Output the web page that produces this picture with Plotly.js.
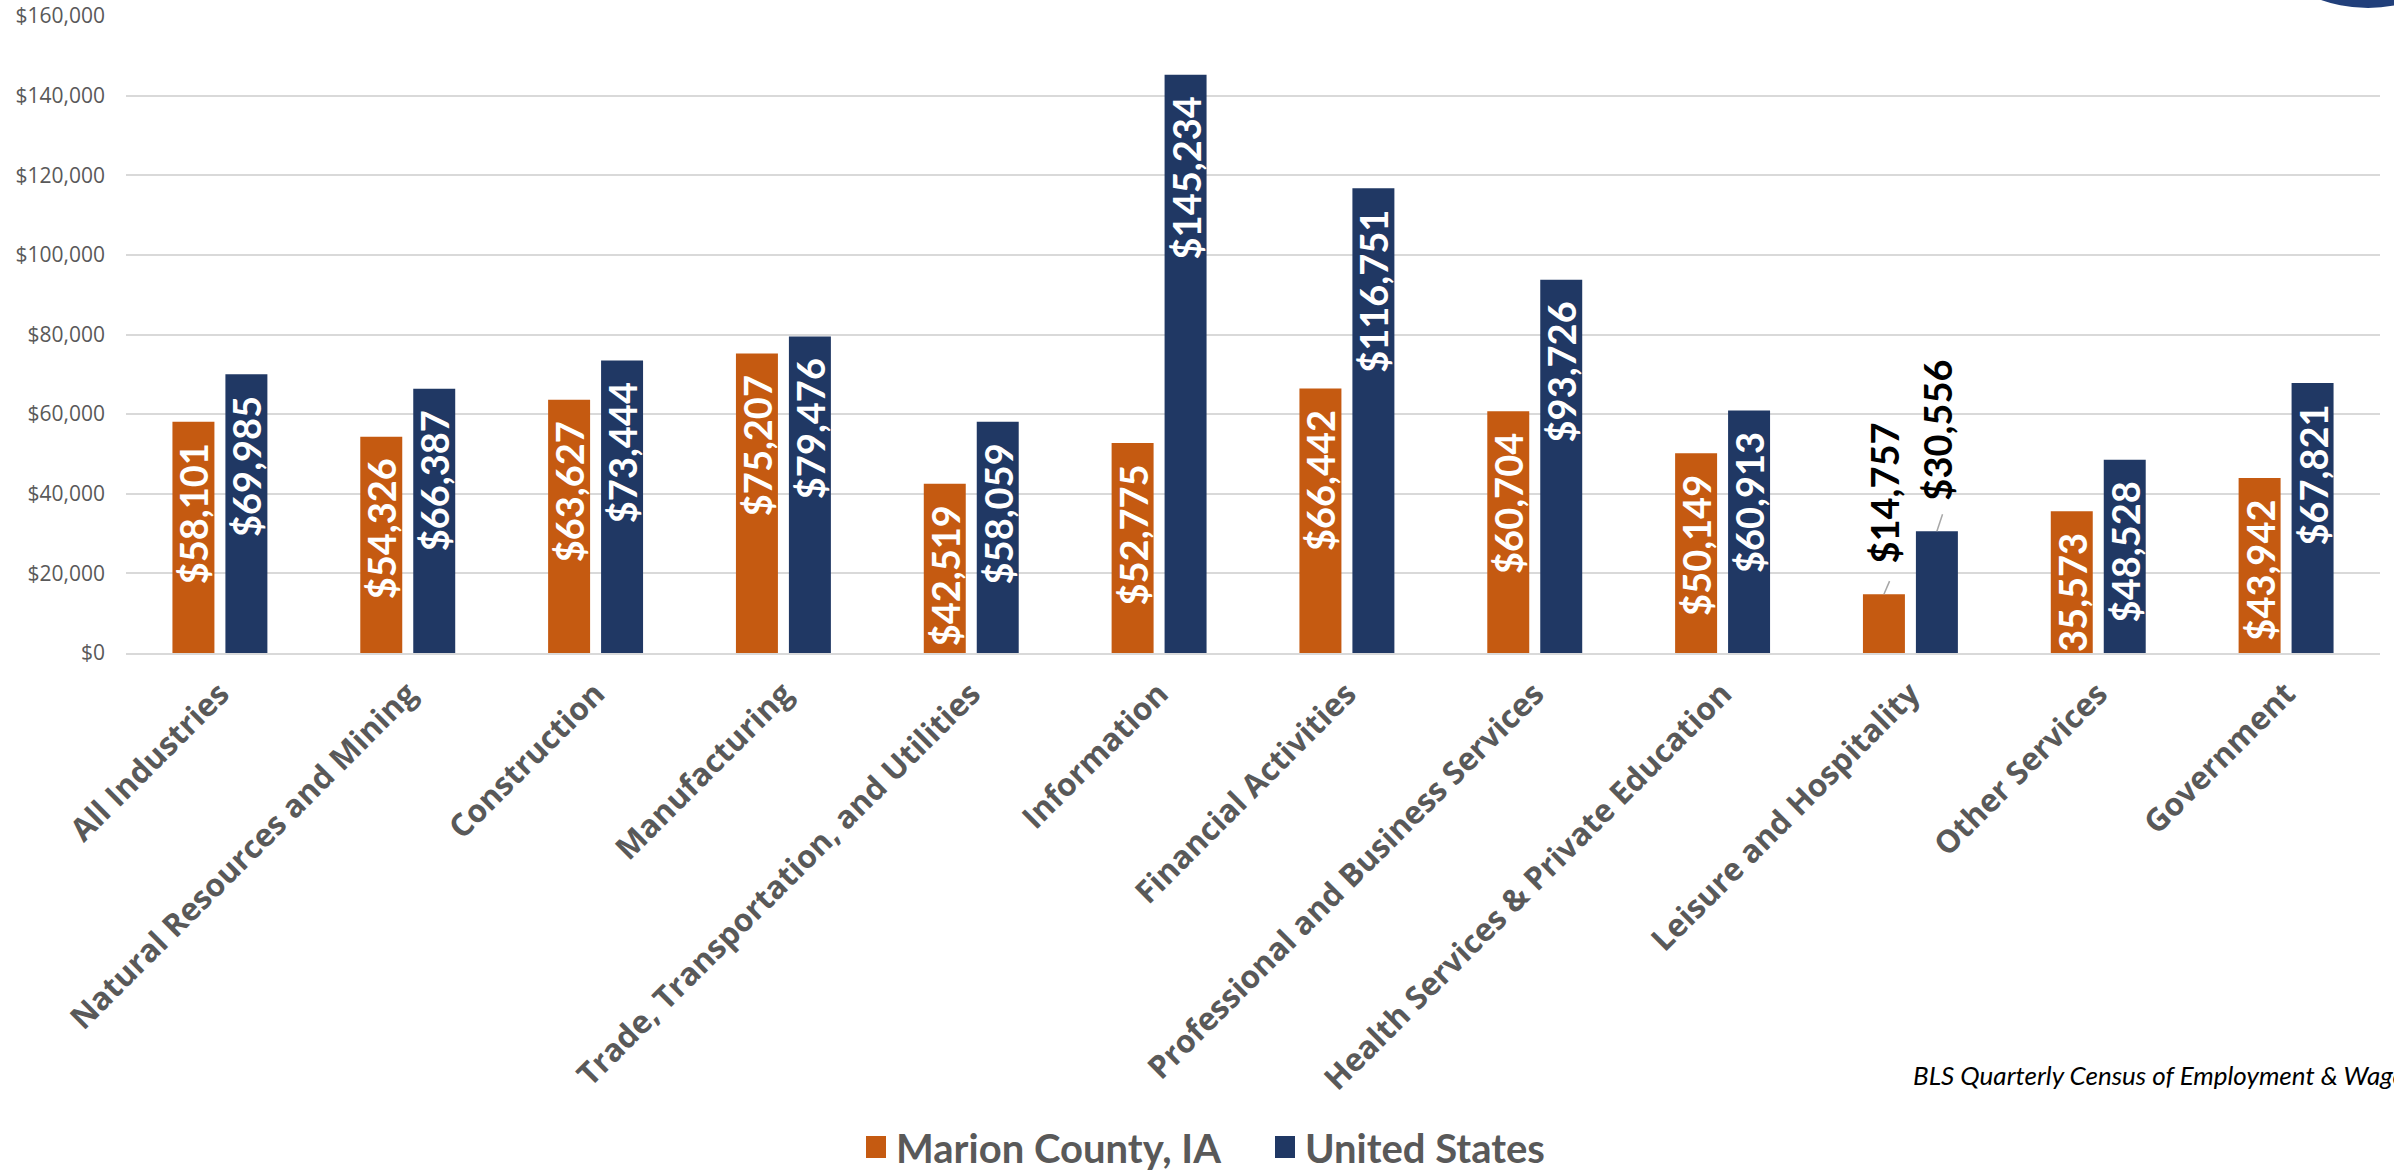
<!DOCTYPE html>
<html>
<head>
<meta charset="utf-8">
<script src="https://cdn.plot.ly/plotly-3.0.1.min.js"></script>
<style>
html,body{margin:0;padding:0;background:#fff;}
#chart{width:2394px;height:1172px;}
</style>
</head>
<body>
<div id="chart"></div>
<script>
const categories = ["All Industries","Natural Resources and Mining","Construction","Manufacturing","Trade, Transportation, and Utilities","Information","Financial Activities","Professional and Business Services","Health Services & Private Education","Leisure and Hospitality","Other Services","Government"];
const marionWages = [58101,54326,63627,75207,42519,52775,66442,60704,50149,14757,35573,43942];
const usWages = [69985,66387,73444,79476,58059,145234,116751,93726,60913,30556,48528,67821];
const seriesNames = ["Marion County, IA","United States"];
const yTickVals = [0,20000,40000,60000,80000,100000,120000,140000,160000];
const sourceNote = "BLS Quarterly Census of Employment & Wages";
const outsideLabelCategory = "Leisure and Hospitality";

const W = 2394, H = 1172;
const M = {l:126, r:14, t:16, b:518.5};
const pw = W - M.l - M.r, ph = H - M.t - M.b;
const px2x = p => (p - M.l) / pw;
const px2y = p => (H - M.b - p) / ph;

const NB = "\u00a0";
const fmt = v => "$" + v.toLocaleString("en-US");
const outIdx = categories.indexOf(outsideLabelCategory);
function labels(vals){ return vals.map((v,i)=> i===outIdx ? NB+NB+NB+fmt(v) : fmt(v)+NB+NB); }
function positions(vals){ return vals.map((v,i)=> i===outIdx ? "outside" : "inside"); }
function colors(vals){ return vals.map((v,i)=> i===outIdx ? "#000000" : "#ffffff"); }

const labelFont = "Lato, Open Sans, sans-serif";

function barTrace(name, vals, color){
  return {
    type:"bar", name:name, x:categories, y:vals,
    marker:{color:color},
    text:labels(vals), textposition:positions(vals),
    textangle:-90, insidetextanchor:"end", constraintext:"none",
    textfont:{family:labelFont, size:38, color:colors(vals), weight:"bold"},
    outsidetextfont:{family:labelFont, size:38, color:"#000000", weight:"bold"},
    hoverinfo:"x+y", cliponaxis:true
  };
}

const data = [
  barTrace(seriesNames[0], marionWages, "#C55A11"),
  barTrace(seriesNames[1], usWages, "#203864")
];

const bargap = 0.436, bargroupgap = 0.2075;
const slot = (1 - bargap) / 2;
const shapes = [];
[[marionWages,-slot/2,3300],[usWages,slot/2,4300]].forEach(([vals,off,len])=>{
  shapes.push({type:"line", xref:"x", yref:"y",
    x0: outIdx + off, y0: vals[outIdx],
    x1: outIdx + off + 0.03, y1: vals[outIdx] + len,
    line:{color:"#a6a6a6", width:1.5}});
});
// decorative logo circle at top-right corner
const cx = 2368, cy = -134, rad = 142;
shapes.push({type:"circle", xref:"paper", yref:"paper",
  x0:px2x(cx-rad), x1:px2x(cx+rad), y0:px2y(cy+rad), y1:px2y(cy-rad),
  fillcolor:"#213f7a", line:{width:0}, layer:"above"});

const layout = {
  width:W, height:H,
  margin:{l:M.l, r:M.r, t:M.t, b:M.b, autoexpand:false},
  paper_bgcolor:"#ffffff", plot_bgcolor:"#ffffff",
  barmode:"group", bargap:bargap, bargroupgap:bargroupgap,
  showlegend:true,
  legend:{orientation:"h", x:px2x(856), xanchor:"left", y:px2y(1148), yanchor:"middle",
    font:{family:labelFont, size:40, color:"#595959", weight:"bold"},
    entrywidth:364, entrywidthmode:"pixels", traceorder:"normal"},
  xaxis:{type:"category", tickangle:-45, showgrid:false, showline:true, linecolor:"#d9d9d9", linewidth:1.5,
    ticks:"outside", ticklen:8, tickcolor:"rgba(0,0,0,0)",
    tickfont:{family:"Open Sans, sans-serif", size:31.5, color:"#595959", weight:"bold"}, automargin:false},
  yaxis:{range:[0,160000], tickvals:yTickVals, ticktext:yTickVals.map(fmt),
    showgrid:true, gridcolor:"#d9d9d9", gridwidth:1.5, zeroline:false, showline:false,
    ticklabelstandoff:20,
    tickfont:{family:"Open Sans, sans-serif", size:21, color:"#595959"}, automargin:false},
  shapes:shapes,
  annotations:[{text:"<i>"+sourceNote+"</i>", xref:"paper", yref:"paper",
    x:px2x(1911), y:px2y(1076), xanchor:"left", yanchor:"middle", showarrow:false,
    font:{family:labelFont, size:26, color:"#000000"}}]
};

function enlargeLegendIcons(gd){
  gd.querySelectorAll(".legend .legendpoints path").forEach(p=>{
    p.setAttribute("d","M10,11H-10V-11H10Z");
  });
}
Plotly.newPlot("chart", data, layout, {displayModeBar:false, responsive:false}).then(gd=>{
  enlargeLegendIcons(gd);
  setTimeout(()=>enlargeLegendIcons(gd), 50);
});
</script>
</body>
</html>
